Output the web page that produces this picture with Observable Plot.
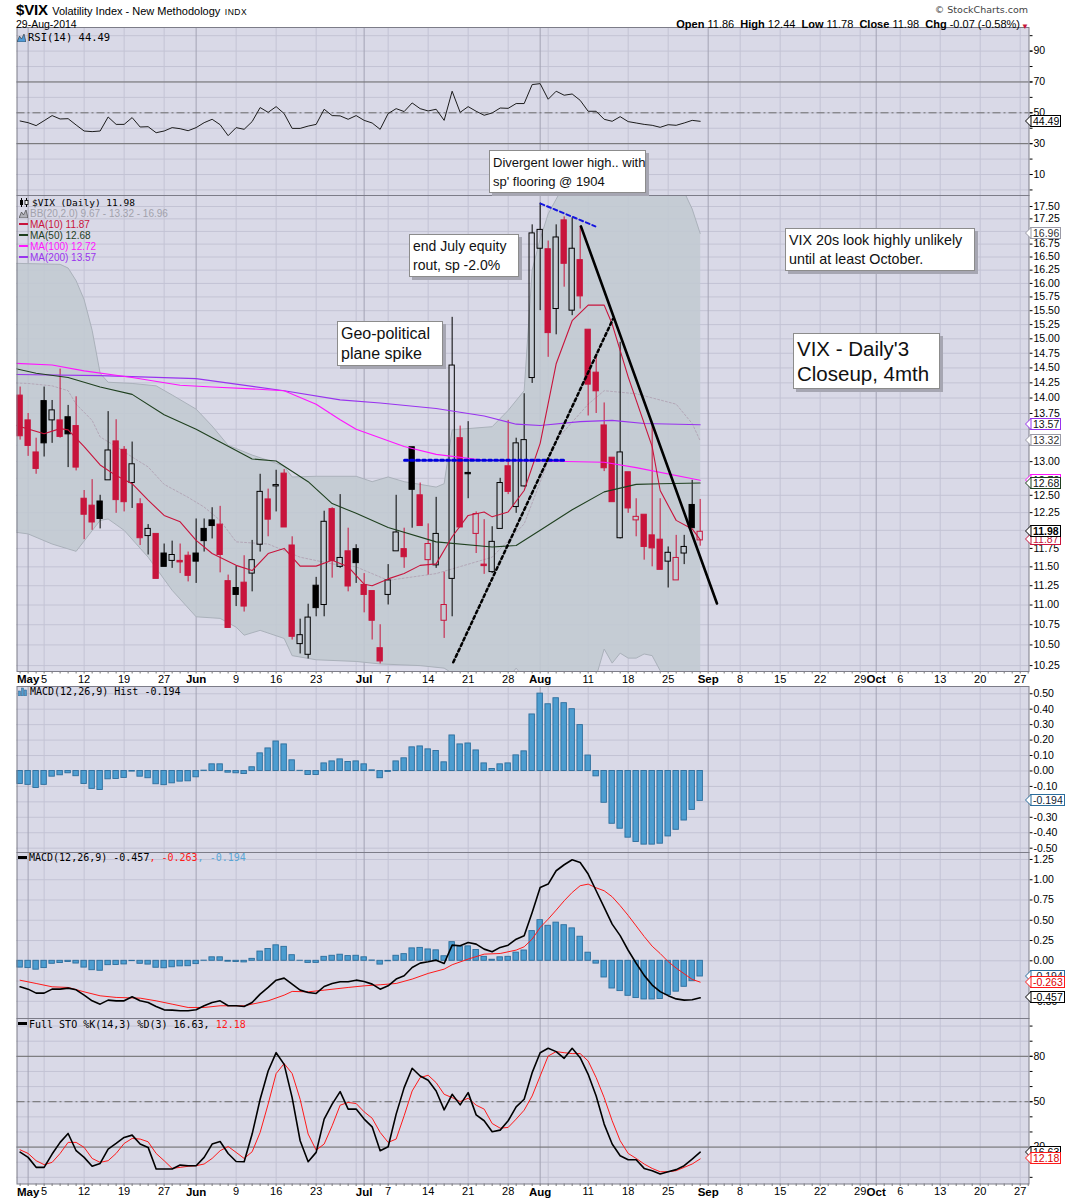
<!DOCTYPE html>
<html>
<head>
<meta charset="utf-8">
<script src="https://cdn.jsdelivr.net/npm/d3@7"></script>
<script src="https://cdn.jsdelivr.net/npm/@observablehq/plot@0.6"></script>
<style>
html,body{margin:0;padding:0;background:#fff;}
#wrap{position:relative;width:1075px;height:1200px;overflow:hidden;font-family:"Liberation Sans",Arial,sans-serif;color:#000;}
#wrap > svg{position:absolute;left:0;}
.t{position:absolute;white-space:nowrap;line-height:12px;}
.mono{font-family:"DejaVu Sans Mono",monospace;}
.note{position:absolute;background:#fff;border:1px solid #8c8c8c;box-shadow:3px 3px 0 #a6a6b2;white-space:nowrap;color:#111;box-sizing:border-box;}
.vb{position:absolute;left:1030px;height:12px;box-sizing:border-box;border:1px solid;background:#fff;font-size:10.5px;line-height:10px;padding:0 1px 0 2px;white-space:nowrap;}
.sw{display:inline-block;width:9px;height:2px;vertical-align:middle;margin-right:2px;position:relative;top:-1px;}
</style>
</head>
<body>
<div id="wrap"></div>
<script>
// ---------------- DATA ----------------
const dates = ["2014-04-30",
"2014-05-01","2014-05-02","2014-05-05","2014-05-06","2014-05-07","2014-05-08","2014-05-09","2014-05-12","2014-05-13","2014-05-14",
"2014-05-15","2014-05-16","2014-05-19","2014-05-20","2014-05-21","2014-05-22","2014-05-23","2014-05-27","2014-05-28","2014-05-29","2014-05-30",
"2014-06-02","2014-06-03","2014-06-04","2014-06-05","2014-06-06","2014-06-09","2014-06-10","2014-06-11","2014-06-12","2014-06-13",
"2014-06-16","2014-06-17","2014-06-18","2014-06-19","2014-06-20","2014-06-23","2014-06-24","2014-06-25","2014-06-26","2014-06-27","2014-06-30",
"2014-07-01","2014-07-02","2014-07-03","2014-07-07","2014-07-08","2014-07-09","2014-07-10","2014-07-11","2014-07-14","2014-07-15",
"2014-07-16","2014-07-17","2014-07-18","2014-07-21","2014-07-22","2014-07-23","2014-07-24","2014-07-25","2014-07-28","2014-07-29","2014-07-30","2014-07-31",
"2014-08-01","2014-08-04","2014-08-05","2014-08-06","2014-08-07","2014-08-08","2014-08-11","2014-08-12","2014-08-13","2014-08-14",
"2014-08-15","2014-08-18","2014-08-19","2014-08-20","2014-08-21","2014-08-22","2014-08-25","2014-08-26","2014-08-27","2014-08-28","2014-08-29"];

const open = [14.04,13.64,13.14,13.95,13.64,13.64,13.69,13.55,12.45,12.35,
12.41,12.72,13.31,13.18,12.68,12.37,11.92,11.95,11.68,11.58,
11.58,11.65,11.68,12.02,12.14,12.08,11.31,11.22,11.29,11.41,
11.80,12.44,12.63,12.82,11.79,10.51,10.38,11.25,11.00,12.30,
11.50,11.71,11.74,11.26,11.18,10.46,11.13,11.71,11.74,13.22,
12.50,11.59,11.52,10.80,11.34,13.36,12.83,11.95,11.53,11.43,
12.02,12.93,12.33,12.63,14.33,16.66,16.65,15.53,17.22,15.50,
16.44,15.16,14.42,13.56,13.06,11.89,12.84,12.14,12.22,11.93,
11.87,11.57,11.32,11.68,12.36,11.86];
const high = [14.18,13.75,13.36,14.18,13.96,14.48,13.88,14.02,12.57,12.73,
12.50,13.78,13.65,13.23,13.30,12.45,12.08,11.95,11.81,11.85,
11.81,11.70,12.16,12.16,12.32,12.34,11.39,11.51,11.65,11.86,
12.81,12.59,12.87,12.88,11.91,10.82,11.01,11.36,12.27,12.32,
12.51,12.03,11.80,11.41,11.18,10.75,11.53,12.50,12.03,13.22,
12.68,12.09,12.47,11.43,15.38,13.55,13.62,12.26,12.15,12.05,
12.75,13.64,13.36,14.07,17.13,17.57,16.81,17.13,17.29,17.27,
17.10,15.16,14.73,13.92,13.06,14.94,12.84,12.45,12.22,13.56,
12.45,11.77,11.93,11.93,12.72,12.44];
const low = [13.33,13.08,12.81,13.07,13.28,13.36,12.91,12.86,11.87,12.00,
12.02,12.72,12.24,12.26,12.31,11.79,11.66,11.34,11.50,11.48,
11.41,11.30,11.28,11.70,11.88,11.42,10.71,10.98,10.91,11.17,
11.70,11.91,12.26,12.04,10.56,10.39,10.33,10.85,10.85,11.35,
11.48,11.17,11.28,10.90,10.56,10.27,11.00,11.71,11.48,12.03,
12.06,11.39,11.48,10.58,10.85,12.04,12.45,11.68,11.40,11.41,
12.02,12.51,12.24,12.62,14.24,15.50,14.68,15.07,15.93,15.41,
15.53,13.71,13.75,12.85,12.40,11.88,12.24,11.91,11.59,11.50,
11.46,11.22,11.32,11.53,12.03,11.78];
const close = [13.39,13.24,12.89,13.28,13.80,13.38,13.42,12.91,12.22,12.11,
12.16,13.17,12.43,12.40,12.96,11.89,12.02,11.34,11.50,11.66,
11.56,11.38,11.57,11.85,12.06,11.66,10.71,11.13,10.98,11.59,
12.55,12.15,12.65,12.04,10.60,10.62,10.84,10.96,12.12,11.58,
11.62,11.24,11.55,11.13,10.80,10.30,11.32,11.97,11.63,12.58,
12.06,11.81,11.95,11.00,14.54,12.04,12.81,12.23,11.51,11.84,
12.68,12.55,13.28,13.33,16.96,17.03,15.10,16.88,16.37,16.66,
15.76,14.22,14.11,12.90,12.40,13.14,12.31,12.19,11.77,11.75,
11.46,11.69,11.62,11.77,12.03,11.98];
const closeBeforeFirst = 13.71;

// overlays: [trading-day index (0 = 30 Apr), value]
const ma10 = [[-1,13.58],[3,13.43],[5,13.51],[6,13.49],[8,13.23],[10,12.95],[12,12.79],[14,12.67],[16,12.43],[18,12.21],[20,12.12],[22,11.86],[24,11.68],[27,11.52],[29,11.45],[31,11.68],[33,11.75],[35,11.51],[37,11.51],[39,11.59],[41,11.50],[43,11.27],[44,11.25],[46,11.34],[48,11.41],[50,11.52],[52,11.54],[54,11.91],[56,12.21],[58,12.26],[59,12.19],[61,12.26],[63,12.57],[65,13.28],[67,14.57],[69,15.32],[71,15.60],[73,15.60],[74,15.26],[76,14.35],[79,13.23],[80,12.57],[82,12.14],[84,12.02],[85,11.87]];
const ma50 = [[-1,14.50],[2,14.41],[6,14.34],[10,14.18],[14,14.06],[18,13.73],[22,13.50],[25,13.30],[29,13.04],[32,13.01],[36,12.70],[39,12.38],[42,12.24],[46,12.04],[52,11.84],[59,11.77],[62,11.79],[65,12.00],[69,12.29],[73,12.55],[77,12.66],[80,12.67],[85,12.68]];
const ma100 = [[-1,14.58],[4,14.55],[8,14.45],[14,14.34],[20,14.21],[24,14.18],[29,14.15],[33,14.12],[37,13.90],[40,13.65],[42,13.50],[44,13.41],[48,13.23],[52,13.11],[58,13.02],[65,13.01],[73,12.99],[77,12.91],[85,12.72]];
const ma200 = [[-1,14.39],[10,14.37],[22,14.32],[33,14.12],[40,13.97],[45,13.92],[52,13.83],[58,13.71],[62,13.58],[65,13.56],[70,13.62],[74,13.64],[78,13.59],[85,13.57]];
const bbUpper = [[-1,16.38],[5,16.36],[6,16.29],[7,16.05],[8,15.7],[9,15.15],[10,14.41],[11,14.26],[14,14.24],[17,14.20],[19,14.05],[22,13.82],[24,13.55],[26,13.25],[29,13.10],[31,13.02],[33,12.93],[34,12.77],[37,12.78],[42,12.78],[44,12.70],[46,12.77],[48,12.70],[52,12.62],[53,12.67],[54,13.49],[56,13.51],[59,13.54],[61,13.80],[63,14.12],[64,16.25],[65,16.85],[66,17.35],[67,17.65],[68,17.95],[70,18.3],[75,18.5],[80,18.3],[82,18.0],[83,17.8],[84,17.45],[85,16.96]];
const bbLower = [[-1,11.98],[1,11.95],[4,11.81],[7,11.71],[10,12.14],[11,12.16],[13,12.00],[16,11.63],[19,11.19],[22,10.85],[25,10.83],[27,10.72],[28,10.62],[30,10.68],[33,10.58],[34,10.37],[37,10.32],[42,10.30],[45,10.27],[50,10.25],[53,10.22],[55,10.1],[60,9.95],[61,10.1],[62,10.22],[63,10.1],[65,9.9],[68,9.8],[72,10.12],[73,10.45],[74,10.28],[75,10.40],[76,10.34],[77,10.34],[78,10.39],[79,10.37],[80,10.19],[81,10.0],[85,9.67]];
const bbMid = [[-1,14.25],[1,14.24],[4,14.20],[6,14.12],[7,13.90],[9,13.64],[10,13.38],[12,13.23],[14,13.07],[16,12.92],[18,12.66],[21,12.47],[23,12.33],[25,12.14],[27,11.84],[31,11.81],[33,11.72],[35,11.63],[39,11.54],[42,11.50],[46,11.32],[52,11.41],[59,11.63],[63,12.09],[67,13.33],[71,13.90],[73,14.12],[77,14.07],[82,13.90],[84,13.59],[85,13.32]];

// hand-drawn annotation lines: [trading-day index, price]
const flatLine = [[48.05,13.02],[67.96,13.02]];
const highsLine = [[65.05,17.56],[71.9,17.10]];
const supportLine = [[54.14,10.29],[74.1,15.35]];
const downTrend = [[70.1,17.10],[87.1,11.02]];

const rsi = [44.7,43.6,41.7,44.9,48.2,46.0,46.2,42.1,38.2,37.8,
38.2,47.3,42.5,42.5,46.9,40.8,41.0,37.1,38.2,40.4,
39.7,38.4,40.4,43.6,45.8,42.3,35.2,40.4,39.3,44.3,
53.4,50.3,54.0,49.5,39.9,39.9,41.4,42.5,52.3,48.2,
48.0,45.8,48.2,45.1,43.4,39.3,49.5,52.7,50.8,56.4,
52.7,51.2,52.3,45.1,64.0,50.3,54.0,51.0,48.4,49.9,
53.1,52.9,56.0,56.0,68.3,68.9,58.8,64.0,61.4,62.2,
58.1,51.0,51.0,45.8,44.5,47.5,44.3,43.4,42.5,41.9,
40.6,42.3,41.9,43.4,45.1,44.49];

const macdHist = [-0.084,-0.09,-0.11,-0.09,-0.037,-0.028,-0.015,-0.034,-0.084,-0.116,
-0.123,-0.054,-0.052,-0.045,-0.004,-0.037,-0.047,-0.086,-0.092,-0.080,
-0.069,-0.067,-0.041,0.002,0.043,0.043,-0.011,-0.015,-0.02,0.024,
0.114,0.146,0.191,0.172,0.069,0.001,-0.026,-0.026,0.049,0.062,
0.075,0.058,0.062,0.043,0.004,-0.047,-0.006,0.062,0.082,0.153,
0.159,0.140,0.129,0.056,0.230,0.172,0.178,0.133,0.049,0.013,
0.043,0.049,0.101,0.127,0.366,0.501,0.432,0.471,0.439,0.40,
0.297,0.10,-0.035,-0.206,-0.342,-0.374,-0.432,-0.46,-0.477,-0.477,
-0.471,-0.424,-0.381,-0.321,-0.252,-0.194];
const macdLine = [-0.321,-0.350,-0.399,-0.399,-0.350,-0.350,-0.337,-0.358,-0.424,-0.494,
-0.535,-0.485,-0.494,-0.494,-0.444,-0.494,-0.514,-0.564,-0.605,-0.609,
-0.617,-0.617,-0.605,-0.555,-0.514,-0.494,-0.555,-0.555,-0.564,-0.514,
-0.411,-0.329,-0.239,-0.214,-0.288,-0.362,-0.391,-0.403,-0.317,-0.280,
-0.259,-0.259,-0.239,-0.255,-0.288,-0.350,-0.309,-0.226,-0.185,-0.082,
-0.029,-0.012,0.008,-0.033,0.193,0.185,0.226,0.206,0.144,0.111,
0.165,0.193,0.267,0.309,0.596,0.905,0.946,1.111,1.185,1.246,
1.213,1.070,0.864,0.658,0.452,0.31,0.13,-0.03,-0.18,-0.30,
-0.38,-0.43,-0.47,-0.485,-0.48,-0.457];
const macdSignal = [[0,-0.24],[2,-0.28],[4,-0.321],[6,-0.329],[8,-0.383],[10,-0.432],[12,-0.452],[15,-0.461],[17,-0.494],[19,-0.535],[21,-0.576],[23,-0.576],[25,-0.555],[28,-0.555],[31,-0.494],[33,-0.424],[34,-0.378],[36,-0.383],[38,-0.362],[41,-0.329],[43,-0.309],[45,-0.296],[47,-0.280],[49,-0.226],[51,-0.156],[53,-0.103],[54,-0.049],[56,0.021],[58,0.082],[60,0.090],[62,0.132],[63,0.173],[64,0.267],[65,0.411],[66,0.514],[67,0.625],[68,0.740],[69,0.843],[70,0.926],[71,0.946],[72,0.90],[73,0.864],[74,0.79],[75,0.68],[76,0.56],[77,0.43],[78,0.30],[79,0.18],[80,0.09],[81,-0.01],[82,-0.09],[83,-0.16],[84,-0.23],[85,-0.263]];

const stoK = [16.7,13.2,6.6,6.6,15.4,23.1,29.0,17.6,13.2,7.3,
9.2,18.7,22.4,26.4,27.9,22.0,19.8,5.5,5.5,5.5,
8.1,7.7,7.7,13.2,22.0,23.7,15.8,10.5,10.3,28.6,
51.6,70.3,82.4,74.7,52.7,24.2,10.3,16.5,38.5,48.4,
56.7,45.1,45.1,38.5,33.4,17.6,20.2,41.8,59.3,72.1,
67.0,64.2,57.1,44.6,54.9,47.9,56.0,41.3,37.4,30.1,
31.2,37.4,46.6,51.6,69.2,82.4,85.3,83.1,78.7,85.3,
79.1,68.1,53.8,35.2,22.0,14.3,11.6,11.6,5.9,4.4,
2.2,3.7,5.1,7.7,12.1,16.63];
const stoD = [18.2,15.8,11.0,8.4,9.9,15.8,23.1,23.1,19.8,12.5,
9.9,11.0,15.8,22.4,25.7,25.3,23.5,15.8,11.0,5.9,
6.6,7.3,7.7,8.8,12.5,17.6,20.4,16.5,12.5,16.9,
29.7,48.4,68.6,75.2,68.6,51.6,28.6,18.0,22.0,34.1,
47.7,49.5,48.8,43.3,39.1,29.7,23.1,25.3,40.7,57.1,
65.9,67.5,62.6,54.9,52.7,50.1,52.3,47.7,45.1,35.6,
32.5,33.0,38.5,44.4,53.8,67.0,80.2,83.1,82.4,81.8,
81.8,76.9,65.9,52.7,37.4,24.2,15.8,12.5,8.8,5.9,
3.7,3.7,4.4,6.6,8.8,12.18];

// axis ticks
const monthTickDates = ["2014-05-01","2014-06-02","2014-07-01","2014-08-01","2014-09-02","2014-10-01"];
const monthTickLabels = ["May","Jun","Jul","Aug","Sep","Oct"];
const dayTickDates = ["2014-05-05","2014-05-12","2014-05-19","2014-05-27","2014-06-09","2014-06-16","2014-06-23","2014-07-07","2014-07-14","2014-07-21","2014-07-28","2014-08-11","2014-08-18","2014-08-25","2014-09-08","2014-09-15","2014-09-22","2014-09-29","2014-10-06","2014-10-13","2014-10-20","2014-10-27"];
const extraGridDates = ["2014-06-30","2014-08-04"];
const priceTicks = d3.range(41, 71).map(k => k / 4);
const priceLabelsHidden = [17.00, 13.50, 13.25, 12.75, 12.00];   // covered by value boxes
const rsiLabels = [90, 70, 50, 30, 10];
const histTicks = d3.range(-5, 6).map(k => k / 10);
const macdTicks = d3.range(-2, 6).map(k => k / 4);
const stoLabels = [80, 50, 20];

// ---------------- LAYOUT ----------------
const wrap = document.getElementById("wrap");
const W = 1075, ML = 16.5, MR = 46.5, XDOM = [-0.39, 126.1];
const BG = "#d9d9e7", GRID = "#c3c3d4", MGRID = "#a3a3b4", FRAME = "#7c7c88", RED = "#c8143c", BLUE = "#4d9dd0";

const holidays = new Set(["2014-05-26","2014-07-04","2014-09-01"]);
const cal = [];
for (let t = Date.UTC(2014, 3, 30); t <= Date.UTC(2014, 10, 7); t += 864e5) {
  const d = new Date(t), wd = d.getUTCDay(), iso = d.toISOString().slice(0, 10);
  if (wd === 0 || wd === 6 || holidays.has(iso)) continue;
  cal.push(iso);
}
const idx = iso => cal.indexOf(iso);
const monthIdx = monthTickDates.map(idx);
const dayIdx = dayTickDates.map(idx);
const weekIdx = dayIdx.concat(extraGridDates.map(idx));
const monLab = new Map(monthIdx.map((k, j) => [k, monthTickLabels[j]]));
const dayLab = new Map(dayIdx.map((k, j) => [k, String(+dayTickDates[j].slice(8))]));

function panel(top, height, marginBottom, y, marks) {
  const p = Plot.plot({
    width: W, height, marginLeft: ML, marginRight: MR, marginTop: 0, marginBottom,
    x: {domain: XDOM, axis: null}, y: {...y, axis: null},
    style: {background: "transparent", fontFamily: '"Liberation Sans", Arial, sans-serif', fontSize: "10.5px", overflow: "visible"},
    marks
  });
  p.style.position = "absolute"; p.style.top = top + "px"; p.style.left = "0px";
  wrap.appendChild(p);
  return p;
}
const grid = (yt) => [
  Plot.frame({fill: BG}),
  Plot.ruleY(yt, {stroke: GRID, strokeWidth: 1}),
  Plot.ruleX(weekIdx, {stroke: GRID, strokeWidth: 1}),
  Plot.ruleX(monthIdx, {stroke: MGRID, strokeWidth: 1})
];
const rAxis = (ticks, fmt) => Plot.axisY({anchor: "right", ticks, tickFormat: fmt, tickSize: 3, tickPadding: 1.5, fontSize: 10.5, label: null});
const xAxes = () => [
  Plot.axisX({anchor: "bottom", ticks: d3.range(0, 127), tickFormat: () => "", tickSize: 2.5, stroke: "#777", label: null}),
  Plot.axisX({anchor: "bottom", ticks: dayIdx, tickFormat: k => dayLab.get(k), tickSize: 0, tickPadding: 3.5, fontSize: 11, label: null}),
  Plot.axisX({anchor: "bottom", ticks: monthIdx, tickFormat: k => monLab.get(k), tickSize: 0, tickPadding: 3.5, fontSize: 11.5, fontWeight: "bold", label: null})
];
const P = {x: d => d[0], y: d => d[1]};
const I = {x: (d, i) => i, y: d => d};
const near = (a, b) => Math.abs(a - b) < 1e-6;

// ---- RSI panel ----
const rsiPlot = panel(27, 168, 0, {domain: [-3.6, 105.3]}, [
  ...grid(d3.range(0, 101, 10)),
  Plot.ruleY([70, 30], {stroke: "#6e6e6e"}),
  Plot.ruleY([50], {stroke: "#6e6e6e", strokeDasharray: "8,3,2,3"}),
  Plot.line(rsi, {...I, stroke: "#1c1c1c", strokeWidth: 1}),
  rAxis(d3.range(0, 101, 10), () => ""),
  rAxis(rsiLabels, d => String(d)),
  Plot.frame({stroke: FRAME})
]);

// ---- Main price panel ----
const candles = dates.map((d, i) => ({
  i, o: open[i], h: high[i], l: low[i], c: close[i],
  up: close[i] >= (i ? close[i - 1] : closeBeforeFirst),
  hollow: close[i] > open[i]
}));
const candleMarks = [];
for (const [up, col] of [[true, "#000"], [false, RED]]) {
  const g = candles.filter(d => d.up === up);
  candleMarks.push(Plot.ruleX(g, {x: "i", y1: "h", y2: d => Math.max(d.o, d.c), stroke: col, strokeWidth: 1}));
  candleMarks.push(Plot.ruleX(g, {x: "i", y1: d => Math.min(d.o, d.c), y2: "l", stroke: col, strokeWidth: 1}));
  candleMarks.push(Plot.rect(g.filter(d => !d.hollow), {x1: d => d.i - 0.33, x2: d => d.i + 0.33, y1: "o", y2: "c", fill: col, stroke: col, strokeWidth: 1}));
  candleMarks.push(Plot.rect(g.filter(d => d.hollow), {x1: d => d.i - 0.33, x2: d => d.i + 0.33, y1: "o", y2: "c", fill: "none", stroke: col, strokeWidth: 1}));
}
const bandPoly = bbUpper.concat(bbLower.slice().reverse());
const mainPlot = panel(195, 491, 15, {type: "log", domain: [10.18, 17.726]}, [
  ...grid(priceTicks),
  Plot.line(bandPoly, {...P, fill: "#c1cad1", fillOpacity: 0.88, stroke: "none", clip: true}),
  Plot.line(bbUpper, {...P, stroke: "#aab1ba", strokeWidth: 1, clip: true}),
  Plot.line(bbLower, {...P, stroke: "#aab1ba", strokeWidth: 1, clip: true}),
  Plot.line(bbMid, {...P, stroke: "#b3a7b7", strokeWidth: 1, strokeDasharray: "2,2", clip: true}),
  ...candleMarks,
  Plot.line(ma200, {...P, stroke: "#9933ee", strokeWidth: 1.1, clip: true}),
  Plot.line(ma100, {...P, stroke: "#ff14ff", strokeWidth: 1.1, clip: true}),
  Plot.line(ma50, {...P, stroke: "#1f401f", strokeWidth: 1.1, clip: true}),
  Plot.line(ma10, {...P, stroke: "#c8143c", strokeWidth: 1.1, clip: true}),
  Plot.line(flatLine, {...P, stroke: "#0000dd", strokeWidth: 3, strokeDasharray: "3,3"}),
  Plot.line(highsLine, {...P, stroke: "#1515e0", strokeWidth: 2, strokeDasharray: "4,3"}),
  Plot.line(supportLine, {...P, stroke: "#000", strokeWidth: 2.5, strokeDasharray: "3,3"}),
  Plot.line(downTrend, {...P, stroke: "#000", strokeWidth: 2.6}),
  rAxis(priceTicks, d => priceLabelsHidden.some(h => near(h, d)) ? "" : d.toFixed(2)),
  ...xAxes(),
  Plot.frame({stroke: FRAME})
]);

// ---- MACD histogram panel ----
const histBars = () => Plot.rect(macdHist, {x1: (d, i) => i - 0.34, x2: (d, i) => i + 0.34, y1: 0, y2: d => d, fill: BLUE, stroke: "#2b6d9c", strokeWidth: 0.9});
const histPlot = panel(686, 166, 0, {domain: [-0.528, 0.547]}, [
  ...grid(histTicks),
  histBars(),
  rAxis(histTicks, d => near(d, -0.2) ? "" : d.toFixed(2)),
  Plot.frame({stroke: FRAME})
]);

// ---- MACD panel ----
const macdPlot = panel(852, 166, 0, {domain: [-0.712, 1.336]}, [
  ...grid(macdTicks),
  histBars(),
  Plot.line(macdSignal, {...P, stroke: "#ff1a1a", strokeWidth: 1}),
  Plot.line(macdLine, {...I, stroke: "#000", strokeWidth: 1.6}),
  rAxis(macdTicks, d => near(d, -0.25) ? "" : d.toFixed(2)),
  Plot.frame({stroke: FRAME})
]);

// ---- Full STO panel ----
const stoPlot = panel(1018, 182, 16.5, {domain: [-4.4, 105]}, [
  ...grid(d3.range(0, 101, 10)),
  Plot.ruleY([80, 20], {stroke: "#6e6e6e"}),
  Plot.ruleY([50], {stroke: "#6e6e6e", strokeDasharray: "8,3,2,3"}),
  Plot.line(stoD, {...I, stroke: "#ff1a1a", strokeWidth: 1}),
  Plot.line(stoK, {...I, stroke: "#000", strokeWidth: 1.6}),
  rAxis(d3.range(0, 101, 10), () => ""),
  rAxis(stoLabels, d => String(d)),
  ...xAxes(),
  Plot.frame({stroke: FRAME})
]);

// ---------------- TEXT ----------------
function txt(x, yc, html, css = "", right = false) {
  const d = document.createElement("div");
  d.className = "t";
  d.style.cssText = (right ? `right:${x}px;` : `left:${x}px;`) + `top:${yc - 6}px;` + css;
  d.innerHTML = html;
  wrap.appendChild(d);
  return d;
}
txt(16, 9, `<b style="font-size:15px;letter-spacing:-0.2px">$VIX</b> <span style="font-size:11px">Volatility Index - New Methodology</span> <span style="font-size:8.5px;letter-spacing:0.5px">INDX</span>`, "line-height:14px");
txt(16, 24, "29-Aug-2014", "font-size:10.5px");
txt(47, 10, "© StockCharts.com", 'font-family:"DejaVu Sans",sans-serif;font-size:9.5px;color:#444', true);
txt(55, 23.5, `<b>Open</b> 11.86 &nbsp;<b>High</b> 12.44 &nbsp;<b>Low</b> 11.78 &nbsp;<b>Close</b> 11.98 &nbsp;<b>Chg</b> -0.07 (-0.58%)`, "font-size:11px", true);
txt(46, 23.5, `<span style="color:#c8143c;font-size:8px">▼</span>`, "", true);

const mountain = c => `<svg width="9" height="9" style="vertical-align:-1px;margin-right:2px"><path d="M0,9 L2.5,3 L4.5,6 L7,1 L9,9Z" fill="${c}" stroke="#333" stroke-width="0.6"/></svg>`;
txt(17, 36.5, mountain("#4f9ad8") + "RSI(14) 44.49", "font-size:10.5px", false).classList.add("mono");
txt(19, 202.5, `<svg width="11" height="9" style="vertical-align:-1px;margin-right:2px"><line x1="2.5" y1="0" x2="2.5" y2="9" stroke="#000"/><rect x="1" y="2" width="3" height="5" fill="#000"/><line x1="7.5" y1="0" x2="7.5" y2="9" stroke="#000"/><rect x="6" y="2.5" width="3" height="4" fill="#fff" stroke="#000" stroke-width="0.8"/></svg>$VIX (Daily) 11.98`, "font-size:9.5px").classList.add("mono");
txt(19, 213.5, mountain("#b0b0b8") + "BB(20,2.0) 9.67 - 13.32 - 16.96", "font-size:10px;color:#a2a2ac");
txt(19, 224.5, `<span class="sw" style="background:#c8143c"></span>MA(10) 11.87`, "font-size:10px;color:#c8143c");
txt(19, 235.5, `<span class="sw" style="background:#1f401f"></span>MA(50) 12.68`, "font-size:10px;color:#1f401f");
txt(19, 246.5, `<span class="sw" style="background:#ff14ff"></span>MA(100) 12.72`, "font-size:10px;color:#ff14ff");
txt(19, 257.5, `<span class="sw" style="background:#9933ee"></span>MA(200) 13.57`, "font-size:10px;color:#9933ee");
txt(18, 692, `<svg width="10" height="9" style="vertical-align:-1px;margin-right:2px"><rect x="0.5" y="4" width="2" height="5" fill="#4d9dd0" stroke="#2b5f8c" stroke-width="0.5"/><rect x="3.5" y="1" width="2" height="8" fill="#4d9dd0" stroke="#2b5f8c" stroke-width="0.5"/><rect x="6.5" y="3" width="2" height="6" fill="#4d9dd0" stroke="#2b5f8c" stroke-width="0.5"/></svg>MACD(12,26,9) Hist -0.194`, "font-size:10px").classList.add("mono");
txt(18, 858, `<span class="sw" style="background:#000;height:3px"></span>MACD(12,26,9) -0.457<span style="color:#ff1a1a">, -0.263</span><span style="color:#5aa6d6">, -0.194</span>`, "font-size:10px").classList.add("mono");
txt(18, 1024.5, `<span class="sw" style="background:#000;height:3px"></span>Full STO %K(14,3) %D(3) 16.63, <span style="color:#ff1a1a">12.18</span>`, "font-size:10px").classList.add("mono");

// value boxes on the right axes
function vbox(plot, top, value, label, color, textColor = color, extra = "") {
  const y = top + plot.scale("y").apply(value);
  const d = document.createElement("div");
  d.className = "vb";
  d.style.cssText = `top:${y - 6}px;border-color:${color};color:${textColor};${extra}`;
  d.innerHTML = `<svg width="6" height="12" style="position:absolute;left:-6px;top:-1px;overflow:visible"><polygon points="6,0.5 0.5,6 6,11.5" fill="#fff" stroke="${color}"/></svg>${label}`;
  wrap.appendChild(d);
}
vbox(rsiPlot, 27, 44.49, "44.49", "#000");
vbox(mainPlot, 195, 16.96, "16.96", "#9a9aa6", "#333");
vbox(mainPlot, 195, 13.57, "13.57", "#9933ee", "#111");
vbox(mainPlot, 195, 13.32, "13.32", "#9a9aa6", "#333");
vbox(mainPlot, 195, 12.72, "12.72", "#ff14ff", "#111");
vbox(mainPlot, 195, 12.68, "12.68", "#1f401f", "#111");
vbox(mainPlot, 195, 11.87, "11.87", "#c8143c", "#c8143c");
vbox(mainPlot, 195, 11.98, "11.98", "#000", "#000", "font-weight:bold;border-width:1.5px");
vbox(histPlot, 686, -0.194, "-0.194", "#2b6d9c", "#123");
vbox(macdPlot, 852, -0.194, "-0.194", "#2b6d9c", "#123");
vbox(macdPlot, 852, -0.263, "-0.263", "#ff1a1a", "#d00");
vbox(macdPlot, 852, -0.457, "-0.457", "#000");
vbox(stoPlot, 1018, 16.63, "16.63", "#000");
vbox(stoPlot, 1018, 12.18, "12.18", "#ff1a1a", "#d00");

// annotation notes
function note(left, top, w, h, fs, lh, html) {
  const d = document.createElement("div");
  d.className = "note";
  d.style.cssText = `left:${left}px;top:${top}px;width:${w}px;height:${h}px;font-size:${fs}px;line-height:${lh}px;padding:${Math.max(1, (h - 2 * lh) / 2 - 1)}px 3px 0 3px;`;
  d.innerHTML = html;
  wrap.appendChild(d);
}
note(489, 150, 157, 43, 13, 19, "Divergent lower high.. with<br>sp' flooring @ 1904");
note(409, 234, 110, 43, 14, 19, "end July equity<br>rout, sp -2.0%");
note(337, 321, 106, 45, 16, 20, "Geo-political<br>plane spike");
note(785, 228, 190, 43, 14.3, 19, "VIX 20s look highly unlikely<br>until at least October.");
note(793, 333, 147, 56, 20.5, 25, "VIX - Daily'3<br>Closeup, 4mth");
</script>
</body>
</html>
